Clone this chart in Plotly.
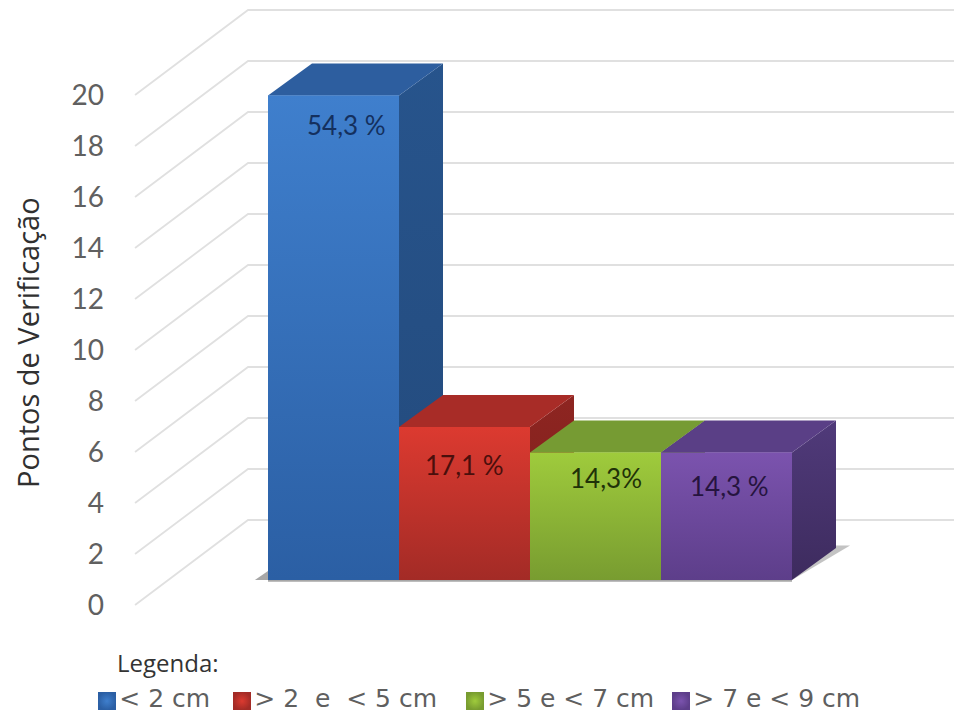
import plotly.graph_objects as go

categories = ["< 2 cm", "> 2\u00a0 e\u00a0 < 5 cm", "> 5 e < 7 cm", "> 7 e < 9 cm"]
values = [19, 6, 5, 5]
labels = ["54,3 %", "17,1 %", "14,3%", "14,3 %"]
label_colors = ["#14305e", "#4a0f0c", "#1f3208", "#26143f"]
label_x = [0.10, 1.00, 2.08, 3.02]
label_y = [18.82, 5.49, 4.98, 4.67]
ticks = list(range(0, 21, 2))
front_top = ["#3f7fcd", "#dc3a30", "#9fcb3c", "#7b53ae"]
front_bottom = ["#2b5fa4", "#a32b26", "#789c30", "#5d3e8a"]
top_color = ["#2d5e9f", "#a82c27", "#769b33", "#5a3f86"]
side_top = ["#27548c", "#8e2521", "#5f7f28", "#503a7a"]
side_bottom = ["#234a7c", "#7c1f1c", "#56731f", "#3d2b5e"]
swatch_px = [107, 242, 475, 681]

# geometry in data units
PX = 131.0          # pixels per category
PY = 25.5           # pixels per value unit
BASE = 25 / PY      # bar floor above the axis zero
BAR_DX, BAR_DY = 44 / PX, 32 / PY
WALL_DX, WALL_DY = 113 / PX, 85 / PY
LEFT = -1.515       # x of the left ends of the diagonals
W = 0.5
OFF = 8             # page margin of the browser
AX_LEFT = 105

fig = go.Figure()


def poly(xs, ys, c1=None, c2=None, solid=None):
    kw = dict(mode="lines", line=dict(width=0), fill="toself", showlegend=False, hoverinfo="skip")
    if solid:
        kw["fillcolor"] = solid
    else:
        kw["fillgradient"] = dict(type="vertical", colorscale=[[0, c2], [1, c1]])
    fig.add_trace(go.Scatter(x=xs + xs[:1], y=ys + ys[:1], **kw))


# walls
for t in ticks:
    fig.add_trace(go.Scatter(
        x=[LEFT, LEFT + WALL_DX, 4.9], y=[t, t + WALL_DY, t + WALL_DY],
        mode="lines", line=dict(color="#e0e0e0", width=1.8),
        showlegend=False, hoverinfo="skip"))

# base bars
for i, (c, v) in enumerate(zip(categories, values)):
    fig.add_trace(go.Bar(x=[i], y=[v], base=BASE, width=1.0, name=c, showlegend=False,
                         marker=dict(color=front_top[i], line=dict(width=0)),
                         hoverinfo="skip"))

# floor shadows
n = len(values)
poly([n - W, n - W + BAR_DX * 1.32, n - W + BAR_DX * 0.9],
     [BASE, BASE + BAR_DY * 1.08, BASE + BAR_DY * 1.08], solid="rgba(170,170,170,0.7)")
poly([-W, -W - 0.1, -W], [BASE, BASE, BASE + 0.35], solid="rgba(130,130,130,0.7)")
fig.add_trace(go.Scatter(x=[-W, n - W], y=[BASE - 0.03, BASE - 0.03], mode="lines",
                         line=dict(color="rgba(130,130,130,0.7)", width=2),
                         showlegend=False, hoverinfo="skip"))

# 3D faces, built from the values
for i, v in enumerate(values):
    l, r, b, t = i - W, i + W, BASE, BASE + v
    poly([r, r + BAR_DX, r + BAR_DX, r], [b, b + BAR_DY, t + BAR_DY, t], side_top[i], side_bottom[i])
    poly([l, r, r + BAR_DX, l + BAR_DX], [t, t, t + BAR_DY, t + BAR_DY], solid=top_color[i])
    poly([l, r, r, l], [b, b, t, t], front_top[i], front_bottom[i])

for x, y, txt, col in zip(label_x, label_y, labels, label_colors):
    fig.add_annotation(x=x, y=y, text=txt, showarrow=False,
                       font=dict(family="Lato, sans-serif", size=26, color=col))

# legend row
LEG_Y = (605 - 701) / PY
for i, c in enumerate(categories):
    fig.add_trace(go.Scatter(
        x=[(swatch_px[i] - 333.5) / PX], y=[LEG_Y], mode="markers+text", text=[c],
        textposition="middle right", cliponaxis=False, showlegend=False, hoverinfo="skip",
        textfont=dict(family="DejaVu Sans", size=25, color="#5f5f5f"),
        marker=dict(symbol="square", size=18, color=front_bottom[i],
                    gradient=dict(type="radial", color=front_top[i]), line=dict(width=0))))

fig.add_annotation(x=(115 - 333.5) / PX, y=(605 - 662) / PY, xanchor="left",
                   text="Legenda:", showarrow=False,
                   font=dict(family="Open Sans, sans-serif", size=24, color="#333333"))

# axis title, centred on the span of the drawn wall rather than the plot
fig.add_annotation(xref="paper", yref="paper", x=(27 - OFF) / (962 - OFF), y=1 - (343 - OFF) / (715 - OFF),
                   xanchor="center", yanchor="middle",
                   text="Pontos de Verificação", textangle=-90, showarrow=False,
                   font=dict(family="Open Sans", size=29, color="#303030"))

fig.update_layout(
    width=962 - OFF, height=715 - OFF, margin=dict(l=0, r=0, t=0, b=0),
    plot_bgcolor="white", paper_bgcolor="white",
    barmode="overlay", showlegend=False,
    font=dict(family="Lato, sans-serif", color="#595959"),
    xaxis=dict(domain=[(AX_LEFT - OFF) / (962 - OFF), 1],
               range=[(AX_LEFT - 333.5) / PX, (962 - 333.5) / PX],
               visible=False, fixedrange=True),
    yaxis=dict(range=[(605 - 715) / PY, (605 - OFF) / PY], tickvals=ticks, ticktext=[str(t) for t in ticks],
               showgrid=False, zeroline=False, showline=False, ticks="", ticklen=0,
               tickfont=dict(size=28, color="#606060"),
               automargin=False, fixedrange=True),
)
fig.write_html("out.html")
